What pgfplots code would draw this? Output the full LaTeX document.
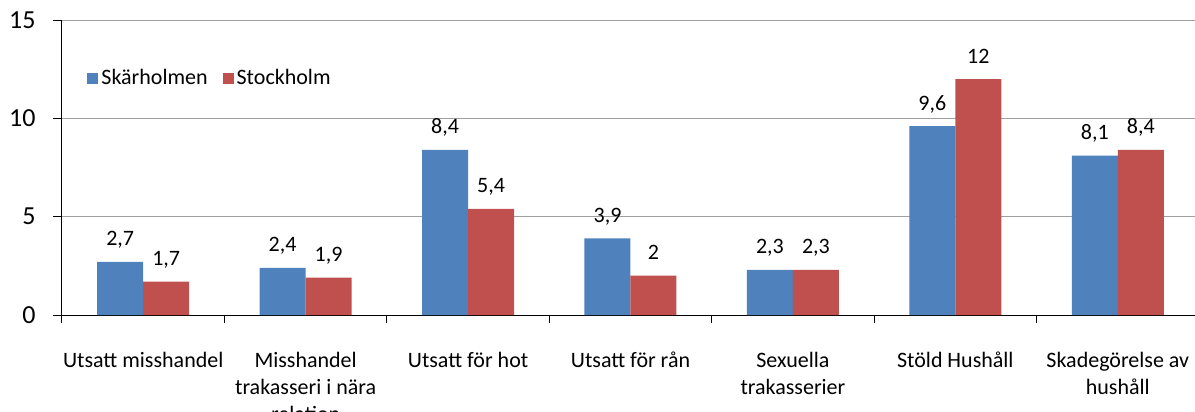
\documentclass[border=0pt]{standalone}
\usepackage{fontspec}
\setmainfont{Carlito}
\usepackage{pgfplots}
\pgfplotsset{compat=1.18}
\definecolor{skblue}{RGB}{79,129,189}
\definecolor{stred}{RGB}{192,80,77}
\newcommand{\lbl}{\fontsize{11pt}{13.4pt}\selectfont}
\begin{document}
\begin{tikzpicture}
\begin{axis}[
  name=ax,
  scale only axis,
  width=568.5pt, height=147.5pt,
  ybar=0pt, bar width=23pt,
  xmin=-0.5, xmax=6.5,
  ymin=0, ymax=15,
  ytick={0,5,10,15},
  xtick={0,...,6},
  xticklabels={Utsatt misshandel, Misshandel\\trakasseri i nära\\relation, Utsatt för hot, Utsatt för rån, Sexuella\\trakasserier, Stöld Hushåll, Skadegörelse av\\hushåll},
  minor xtick={-0.5,0.5,...,6.5},
  major x tick style={draw=none},
  minor tick length=4pt, major tick length=4.5pt,
  tick align=outside,
  axis x line*=bottom, axis y line*=left,
  axis line style={black, line width=0.5pt},
  tick style={black, line width=0.5pt},
  ymajorgrids, grid style={gray!75, line width=0.5pt},
  /pgf/number format/assume math mode=true,
  /pgf/number format/use comma,
  xticklabel style={font=\lbl, align=center, anchor=north, inner sep=0pt, yshift=-14pt},
  yticklabel style={font=\fontsize{13pt}{15pt}\selectfont, anchor=east, inner sep=0pt, xshift=-8.5pt},
  nodes near coords,
  every node near coord/.append style={font=\lbl, anchor=base, inner sep=0pt, yshift=8pt},
  legend style={draw=none, fill=none, inner sep=0pt, font=\lbl,
    at={(axis description cs:0.022,0.803)}, anchor=west, legend columns=2,
    /tikz/every even column/.append style={column sep=6pt},
    nodes={inner sep=1.5pt}},
  legend image code/.code={\fill[#1] (0pt,-2.75pt) rectangle (5.5pt,2.75pt);},
]
\addplot[fill=skblue, draw=none] coordinates {(0,2.7) (1,2.4) (2,8.4) (3,3.9) (4,2.3) (5,9.6) (6,8.1)};
\addplot[fill=stred, draw=none] coordinates {(0,1.7) (1,1.9) (2,5.4) (3,2) (4,2.3) (5,12) (6,8.4)};
\legend{Skärholmen, Stockholm}
\end{axis}
\pgfresetboundingbox
\path ([xshift=-31pt,yshift=-48.5pt]ax.south west) rectangle ([xshift=566.5pt,yshift=157.5pt]ax.south west);
\end{tikzpicture}
\end{document}
